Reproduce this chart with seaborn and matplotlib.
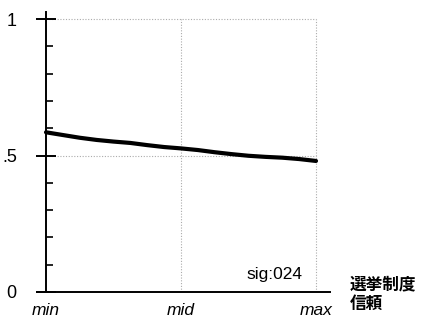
import matplotlib
matplotlib.use("Agg")
import matplotlib.pyplot as plt
import seaborn as sns
import numpy as np
import pandas as pd
from matplotlib.ticker import FixedLocator

# ---- data ----
x_pos = [0, 0.125, 0.25, 0.375, 0.5, 0.625, 0.75, 0.875, 1.0,
         1.125, 1.25, 1.375, 1.5, 1.625, 1.75, 1.875, 2.0]
trust = [0.585, 0.575, 0.565, 0.557, 0.551, 0.546, 0.538, 0.531, 0.526,
         0.520, 0.512, 0.505, 0.499, 0.495, 0.492, 0.487, 0.480]
x_ticks = [0, 1, 2]
x_labels = ["min", "mid", "max"]
y_ticks = [0, 0.5, 1]
y_labels = ["0", ".5", "1"]
y_minor = [0.1, 0.2, 0.3, 0.4, 0.6, 0.7, 0.8, 0.9]
xlabel_lines = ["選挙制度", "信頼"]
sig_text = "sig:024"

sns.set_style("white")
plt.rcParams['font.family'] = ['Liberation Sans', 'Noto Sans CJK JP', 'DejaVu Sans']

W, H = 426, 322
fig = plt.figure(figsize=(W / 100, H / 100), dpi=100)
# axes box in pixels: left 37, right 330, top 12, bottom 292
ax = fig.add_axes([37 / W, (H - 292) / H, (330 - 37) / W, (292 - 12) / H])

df = pd.DataFrame({"x": x_pos, "y": trust})
sns.lineplot(data=df, x="x", y="y", ax=ax, color="black", linewidth=3)

ax.set_xlim(-9 / 135, 2 + 14 / 135)
ax.set_ylim(0, 1 + 7 / 273)

# dotted grid
grid_kw = dict(color="#ababab", linestyle=(0, (1, 1.5)), linewidth=0.8, zorder=0)
ax.plot([0, 2], [1, 1], **grid_kw)
ax.plot([0, 2], [0.5, 0.5], **grid_kw)
ax.plot([1, 1], [0, 1], **grid_kw)
ax.plot([2, 2], [0, 1], **grid_kw)

for s in ["top", "right"]:
    ax.spines[s].set_visible(False)
ax.spines["left"].set_position(("data", 0))
ax.spines["bottom"].set_position(("data", 0))
for s in ["left", "bottom"]:
    ax.spines[s].set_color("black")
    ax.spines[s].set_linewidth(1.4)

ax.set_yticks(y_ticks)
ax.set_yticklabels(y_labels, fontsize=13)
ax.yaxis.set_minor_locator(FixedLocator(y_minor))
ax.tick_params(axis="y", which="major", direction="inout", length=14, width=1.4,
               pad=14, colors="black", left=True)
ax.tick_params(axis="y", which="minor", direction="in", length=5, width=1.2,
               colors="black", left=True)

ax.set_xticks(x_ticks)
ax.set_xticklabels(x_labels, fontsize=12.5, style="italic")
ax.tick_params(axis="x", which="major", length=0, pad=8, colors="black")
ax.set_xlabel("")
ax.set_ylabel("")

ax.text(1.696, 0.064, sig_text, ha="center", va="center", fontsize=12.5, color="black")

fig.text(350 / W, (H - 285) / H, xlabel_lines[0], ha="left", va="center",
         fontsize=12, fontweight="bold", color="black")
fig.text(350 / W, (H - 304) / H, xlabel_lines[1], ha="left", va="center",
         fontsize=12, fontweight="bold", color="black")

fig.savefig("out.png", dpi=100)
